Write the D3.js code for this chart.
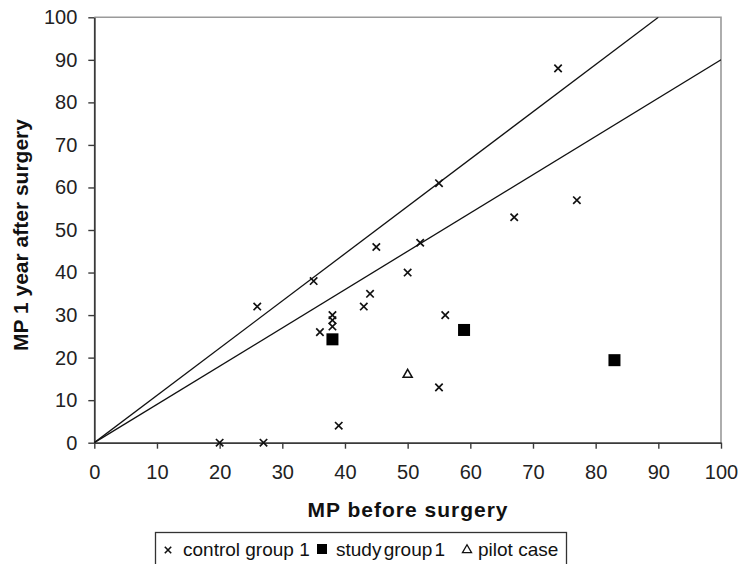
<!DOCTYPE html>
<html>
<head>
<meta charset="utf-8">
<script src="https://cdn.jsdelivr.net/npm/d3@7"></script>
<style>
  html, body { margin: 0; padding: 0; background: #fff; }
  svg { display: block; font-family: "Liberation Sans", Arial, sans-serif; }
</style>
</head>
<body>
<svg id="chart" width="740" height="564"></svg>
<script>
// ---- data ----
const xTicks = [0, 10, 20, 30, 40, 50, 60, 70, 80, 90, 100];
const yTicks = [0, 10, 20, 30, 40, 50, 60, 70, 80, 90, 100];

const controlX = [20, 27, 39, 26, 35, 45, 52, 50, 44, 43, 38, 38, 38, 36, 56, 55, 55, 74, 67, 77];
const controlY = [0, 0, 4, 32, 38, 46, 47, 40, 35, 32, 30, 28.8, 27.3, 26, 30, 13, 61, 88, 53, 57];

const studyX = [38, 59, 83];
const studyY = [24.3, 26.5, 19.4];

const pilotX = [50];
const pilotY = [16];

// reference lines y = slope * x through the origin
const refSlopes = [1 / 0.9, 0.9];

const legendLabels = ["control group 1", "study group 1", "pilot case"];
const xTitle = "MP before surgery";
const yTitle = "MP 1 year after surgery";

// ---- drawing ----
const svg = d3.select("#chart");
const x = d3.scaleLinear().domain([0, 100]).range([94.3, 721]);
const y = d3.scaleLinear().domain([0, 100]).range([442.7, 17.3]);

// top & right frame (gray)
svg.append("path")
  .attr("d", `M${x(0)},${y(100)}H${x(100)}V${y(0)}`)
  .attr("fill", "none").attr("stroke", "#9a9a9a").attr("stroke-width", 1.6);

// axes
const yAxis = svg.append("g")
  .attr("transform", `translate(${x(0)},0)`)
  .call(d3.axisLeft(y).tickValues(yTicks).tickSize(6).tickSizeOuter(0).tickPadding(11));
const xAxis = svg.append("g")
  .attr("transform", `translate(0,${y(0)})`)
  .call(d3.axisBottom(x).tickValues(xTicks).tickSize(6).tickSizeOuter(0).tickPadding(16));
[xAxis, yAxis].forEach(g => {
  g.selectAll("path.domain").attr("stroke", "#3a3a3a").attr("stroke-width", 1.8);
  g.selectAll(".tick line").attr("stroke", "#3a3a3a").attr("stroke-width", 1.4);
  g.selectAll(".tick text").attr("fill", "#222").attr("font-size", 20)
    .attr("font-family", "'Liberation Sans', Arial, sans-serif");
});

// reference lines, clipped to plot
svg.append("clipPath").attr("id", "clip")
  .append("rect").attr("x", x(0)).attr("y", y(100))
  .attr("width", x(100) - x(0)).attr("height", y(0) - y(100));
const line = d3.line().x(d => x(d[0])).y(d => y(d[1]));
refSlopes.forEach(s => {
  const xEnd = Math.min(100, 100 / s);
  svg.append("path")
    .attr("clip-path", "url(#clip)")
    .attr("d", line([[0, 0], [xEnd, s * xEnd]]))
    .attr("fill", "none").attr("stroke", "#111").attr("stroke-width", 1.3);
});

// markers
const crossPath = (r) => `M${-r},${-r}L${r},${r}M${-r},${r}L${r},${-r}`;
const triPath = d3.symbol().type(d3.symbolTriangle).size(36);

svg.append("g").selectAll("path")
  .data(controlX.map((v, i) => [v, controlY[i]]))
  .join("path")
  .attr("transform", d => `translate(${x(d[0])},${y(d[1])})`)
  .attr("d", crossPath(3.7))
  .attr("stroke", "#111").attr("stroke-width", 1.7).attr("fill", "none");

svg.append("g").selectAll("rect")
  .data(studyX.map((v, i) => [v, studyY[i]]))
  .join("rect")
  .attr("x", d => x(d[0]) - 6).attr("y", d => y(d[1]) - 6)
  .attr("width", 12).attr("height", 12).attr("fill", "#000");

svg.append("g").selectAll("path")
  .data(pilotX.map((v, i) => [v, pilotY[i]]))
  .join("path")
  .attr("transform", d => `translate(${x(d[0])},${y(d[1])})`)
  .attr("d", triPath())
  .attr("fill", "#fff").attr("stroke", "#111").attr("stroke-width", 1.5);

// axis titles
svg.append("text")
  .attr("x", 408).attr("y", 517)
  .attr("text-anchor", "middle")
  .attr("font-size", 21).attr("font-weight", "bold")
  .attr("letter-spacing", 1)
  .attr("fill", "#111")
  .text(xTitle);

svg.append("text")
  .attr("transform", "translate(28,235) rotate(-90)")
  .attr("text-anchor", "middle")
  .attr("font-size", 21).attr("font-weight", "bold")
  .attr("fill", "#111")
  .text(yTitle);

// legend
const lg = svg.append("g");
lg.append("rect")
  .attr("x", 155.5).attr("y", 532.5).attr("width", 411).attr("height", 50)
  .attr("fill", "#fff").attr("stroke", "#333").attr("stroke-width", 1.3);

const legY = 550;
lg.append("path")
  .attr("transform", `translate(168,${legY})`)
  .attr("d", crossPath(3.2))
  .attr("stroke", "#111").attr("stroke-width", 1.6).attr("fill", "none");
lg.append("rect")
  .attr("x", 317).attr("y", legY - 6).attr("width", 10).attr("height", 10).attr("fill", "#000");
lg.append("path")
  .attr("transform", `translate(467,${legY})`)
  .attr("d", triPath())
  .attr("fill", "#fff").attr("stroke", "#111").attr("stroke-width", 1.3);

const legTextX = [183, 336, 478];
legendLabels.forEach((t, i) => {
  lg.append("text")
    .attr("x", legTextX[i]).attr("y", 556)
    .attr("font-size", 19).attr("fill", "#111")
    .attr("word-spacing", i === 1 ? -3 : 0)
    .text(t);
});
</script>
</body>
</html>
